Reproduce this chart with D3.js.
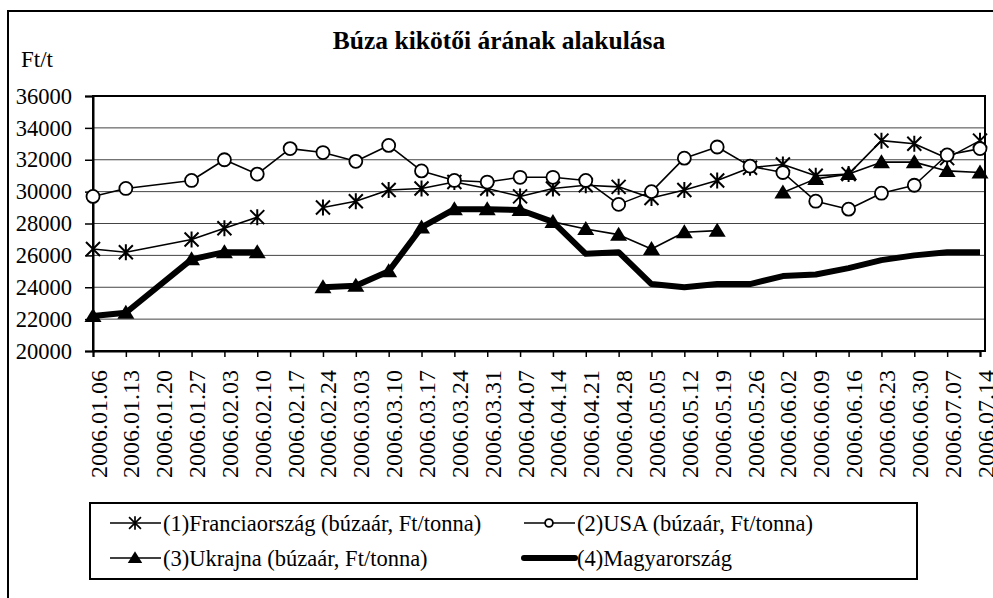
<!DOCTYPE html>
<html>
<head>
<meta charset="utf-8">
<script src="https://cdn.jsdelivr.net/npm/d3@7"></script>
<style>
  html, body { margin: 0; padding: 0; background: #fff; }
  svg { display: block; }
  svg text { font-family: "Liberation Serif", "Times New Roman", Times, "DejaVu Serif", serif; }
</style>
</head>
<body>
<svg id="chart" width="993" height="598"></svg>
<script>
// ---- data ----
// Tick labels: every week on the date axis.
const tickLabels = [
  '2006.01.06', '2006.01.13', '2006.01.20', '2006.01.27', '2006.02.03', '2006.02.10', '2006.02.17',
  '2006.02.24', '2006.03.03', '2006.03.10', '2006.03.17', '2006.03.24', '2006.03.31', '2006.04.07',
  '2006.04.14', '2006.04.21', '2006.04.28', '2006.05.05', '2006.05.12', '2006.05.19', '2006.05.26',
  '2006.06.02', '2006.06.09', '2006.06.16', '2006.06.23', '2006.06.30', '2006.07.07', '2006.07.14'
];
// Data rows (01.20 has no row, so lines run straight across it).
const dates = tickLabels.filter(function (d) { return d !== '2006.01.20'; });

const france = [26400, 26200, 27000, 27700, 28400, null, 29000, 29400, 30100, 30200, 30600, 30200, 29700,
  30200, 30400, 30300, 29600, 30100, 30700, 31500, 31700, 31000, 31100, 33200, 33000, 32100, 33200];
const usa = [29700, 30200, 30700, 32000, 31100, 32700, 32450, 31900, 32900, 31300, 30700, 30600, 30900,
  30900, 30700, 29200, 30000, 32100, 32800, 31600, 31200, 29400, 28900, 29900, 30400, 32300, 32700];
const ukraine = [22200, 22400, 25750, 26200, 26200, null, 24000, 24100, 25000, 27750, 28900, 28900, 28850,
  28100, 27650, 27300, 26400, 27450, 27550, null, 29950, 30800, 31100, 31850, 31850, 31300, 31200];
const hungary = [22200, 22400, 25750, 26200, 26200, null, 24000, 24100, 25000, 27750, 28900, 28900, 28850,
  28100, 26100, 26200, 24200, 24000, 24200, 24200, 24700, 24800, 25200, 25700, 26000, 26200, 26200];

const yTicks = [20000, 22000, 24000, 26000, 28000, 30000, 32000, 34000, 36000];

const seriesNames = [
  '(1)Franciaország (búzaár, Ft/tonna)',
  '(2)USA (búzaár, Ft/tonna)',
  '(3)Ukrajna (búzaár, Ft/tonna)',
  '(4)Magyarország'
];

// ---- layout ----
const svg = d3.select('#chart');
const plot = { left: 93, right: 980, top: 96, bottom: 351, frameRight: 985 };
const FONT = '"Liberation Serif", "Times New Roman", Times, "DejaVu Serif", serif';

const x = d3.scalePoint().domain(tickLabels).range([plot.left, plot.right]);
const y = d3.scaleLinear().domain([20000, 36000]).range([plot.bottom, plot.top]);

// outer chart border (only top and left edges fall inside the picture)
svg.append('rect')
  .attr('x', 8).attr('y', 11).attr('width', 1000).attr('height', 600)
  .attr('fill', 'none').attr('stroke', '#000').attr('stroke-width', 2);

// title + unit
svg.append('text')
  .attr('x', 499).attr('y', 49)
  .attr('text-anchor', 'middle')
  .attr('font-size', 25.5).attr('font-weight', 'bold')
  .text('Búza kikötői árának alakulása');

svg.append('text')
  .attr('x', 21).attr('y', 67)
  .attr('font-size', 23)
  .text('Ft/t');

// gridlines
svg.append('g').selectAll('line')
  .data(yTicks.filter(function (v) { return v > 20000 && v < 36000; }))
  .enter().append('line')
  .attr('x1', plot.left).attr('x2', plot.frameRight)
  .attr('y1', function (d) { return y(d); }).attr('y2', function (d) { return y(d); })
  .attr('stroke', '#444').attr('stroke-width', 1);

// plot frame
svg.append('rect')
  .attr('x', plot.left).attr('y', plot.top)
  .attr('width', plot.frameRight - plot.left).attr('height', plot.bottom - plot.top)
  .attr('fill', 'none').attr('stroke', '#000').attr('stroke-width', 2);

// y axis
const yAxis = svg.append('g')
  .attr('transform', 'translate(' + plot.left + ',0)')
  .call(d3.axisLeft(y).tickValues(yTicks).tickSize(8).tickPadding(13).tickFormat(d3.format('d')))
  .attr('font-family', FONT);
yAxis.select('.domain').attr('stroke-width', 2);
yAxis.selectAll('.tick line').attr('stroke-width', 1.5);
yAxis.selectAll('text')
  .attr('font-size', 22.5).attr('fill', '#000');

// x axis
const xAxis = svg.append('g')
  .attr('transform', 'translate(0,' + plot.bottom + ')')
  .call(d3.axisBottom(x).tickSize(6).tickPadding(0))
  .attr('font-family', FONT);
xAxis.select('.domain').attr('stroke-width', 2);
xAxis.selectAll('.tick line').attr('stroke-width', 1.5);
xAxis.selectAll('text')
  .attr('font-size', 24).attr('fill', '#000')
  .attr('text-anchor', 'end')
  .attr('dy', null)
  .attr('transform', 'translate(7,19) rotate(-90)');

// ---- series ----
function rows(values) {
  return dates.map(function (d, i) { return { date: d, v: values[i] }; });
}
const line = d3.line()
  .defined(function (d) { return d.v != null; })
  .x(function (d) { return x(d.date); })
  .y(function (d) { return y(d.v); });

const series = [
  { values: france, marker: 'star', width: 1.6 },
  { values: usa, marker: 'circle', width: 1.6 },
  { values: ukraine, marker: 'triangle', width: 1.6 },
  { values: hungary, marker: null, width: 6 }
];

function drawMarker(g, kind, cx, cy, scale) {
  const s = scale || 1;
  if (kind === 'star') {
    const m = g.append('g').attr('transform', 'translate(' + cx + ',' + cy + ') scale(' + s + ')')
      .attr('stroke', '#000').attr('stroke-width', 2).attr('fill', 'none');
    m.append('path').attr('d', 'M0,-8V8M-7,-7L7,7M-7,7L7,-7');
  } else if (kind === 'circle') {
    g.append('circle').attr('cx', cx).attr('cy', cy).attr('r', 6.5 * s)
      .attr('fill', '#fff').attr('stroke', '#000').attr('stroke-width', 1.8);
  } else if (kind === 'triangle') {
    g.append('path')
      .attr('transform', 'translate(' + cx + ',' + cy + ') scale(' + s + ')')
      .attr('d', 'M0,-8L8.5,6H-8.5Z').attr('fill', '#000');
  }
}

const seriesLayer = svg.append('g');
series.forEach(function (s) {
  const data = rows(s.values);
  const g = seriesLayer.append('g');
  g.append('path').datum(data)
    .attr('d', line)
    .attr('fill', 'none').attr('stroke', '#000')
    .attr('stroke-width', s.width).attr('stroke-linejoin', 'round');
  if (s.marker) {
    data.filter(function (d) { return d.v != null; }).forEach(function (d) {
      drawMarker(g, s.marker, x(d.date), y(d.v));
    });
  }
});

// ---- legend ----
const legend = svg.append('g');
legend.append('rect')
  .attr('x', 90).attr('y', 503).attr('width', 827).attr('height', 76)
  .attr('fill', '#fff').attr('stroke', '#000').attr('stroke-width', 2);

const legendPos = [
  { x: 110, y: 523 }, { x: 524, y: 523 },
  { x: 110, y: 558 }, { x: 524, y: 558 }
];
series.forEach(function (s, i) {
  const p = legendPos[i];
  legend.append('line')
    .attr('x1', p.x).attr('x2', p.x + 51).attr('y1', p.y).attr('y2', p.y)
    .attr('stroke', '#000').attr('stroke-width', s.marker ? 1.6 : 6)
    .attr('stroke-linecap', s.marker ? 'butt' : 'round');
  if (s.marker) drawMarker(legend, s.marker, p.x + 25, p.y, s.marker === 'circle' ? 0.6 : 0.85);
  legend.append('text')
    .attr('x', p.x + 53).attr('y', p.y + 8)
    .attr('font-size', 22.5)
    .text(seriesNames[i]);
});
</script>
</body>
</html>
